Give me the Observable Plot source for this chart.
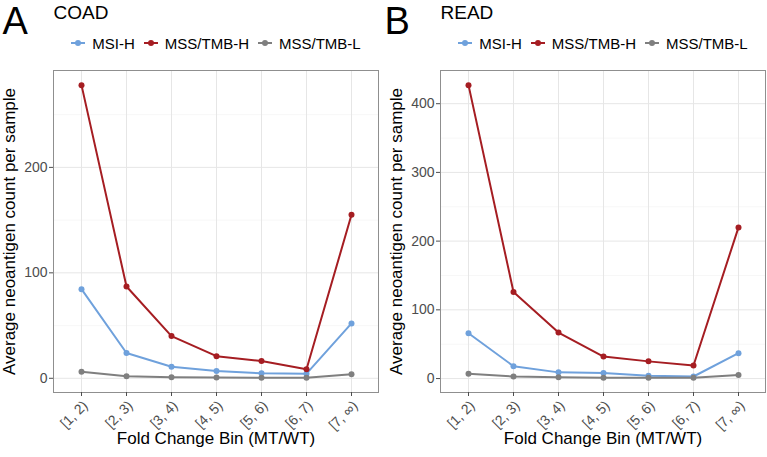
<!DOCTYPE html>
<html>
<head>
<meta charset="utf-8">
<script src="https://cdn.jsdelivr.net/npm/d3@7"></script>
<script src="https://cdn.jsdelivr.net/npm/@observablehq/plot@0.6"></script>
<style>
  html, body { margin: 0; padding: 0; background: #fff; }
  body { font-family: "Liberation Sans", Arial, Helvetica, sans-serif; color: #000; }
  #figure { position: relative; width: 767px; height: 457px; overflow: hidden; }
  .panel { position: absolute; top: 0; height: 457px; }
  .panel > svg.plot { position: absolute; left: 0; top: 0; }
  .legend { position: absolute; top: 34px; height: 18px; display: flex; align-items: center; justify-content: center; font-size: 15px; }
  .legend .item { display: flex; align-items: center; margin: 0 4px; }
  .legend svg { margin-right: 6px; }
</style>
</head>
<body>
<div id="figure"></div>
<script>
// Fold-change bins on the x axis and the three tumour groups
const bins = ["[1, 2)", "[2, 3)", "[3, 4)", "[4, 5)", "[5, 6)", "[6, 7)", "[7, ∞)"];
const groups = ["MSI-H", "MSS/TMB-H", "MSS/TMB-L"];
const groupColors = ["#6fa1dc", "#a51d22", "#7f7f7f"];

// COAD: average neoantigen count per sample in each bin
const coadMSIH = [84.5, 24, 11, 7, 4.7, 4.4, 52];
const coadTMBH = [278, 87, 40, 21, 16.4, 8.5, 155];
const coadTMBL = [6.3, 1.9, 1, 0.7, 0.5, 0.4, 3.8];
const coadTicks = [0, 100, 200];

// READ: average neoantigen count per sample in each bin
const readMSIH = [66, 18, 9, 8, 4, 3, 37];
const readTMBH = [427, 126, 67, 32, 25, 19, 220];
const readTMBL = [7, 3, 2, 1, 1, 1, 5];
const readTicks = [0, 100, 200, 300, 400];

const xTitle = "Fold Change Bin (MT/WT)";
const yTitle = "Average neoantigen count per sample";

const font = '"Liberation Sans", Arial, Helvetica, sans-serif';
const tickColor = "#4d4d4d";

function toRows(series) {
  return groups.flatMap((g, gi) => bins.map((b, i) => ({bin: b, group: g, value: series[gi][i]})));
}

// ggplot-style 5% expansion of the continuous range
function expand(values) {
  const [lo, hi] = d3.extent(values);
  const pad = (hi - lo) * 0.05;
  return [lo - pad, hi + pad];
}

function midpoints(ticks) {
  const step = ticks[1] - ticks[0];
  return ticks.map(t => t + step / 2);
}

function makePanel({left, width, marginLeft, marginRight, tag, tagDx, title, series, ticks}) {
  const rows = toRows(series);
  const domain = expand(rows.map(d => d.value));
  const minor = midpoints(ticks).filter(v => v < domain[1]);

  const panel = document.createElement("div");
  panel.className = "panel";
  panel.style.left = left + "px";
  panel.style.width = width + "px";

  const svg = Plot.plot({
    width,
    height: 457,
    marginTop: 70,
    marginBottom: 65,
    marginLeft,
    marginRight,
    style: {fontFamily: font, fontSize: "14px", background: "transparent", overflow: "visible"},
    x: {type: "point", domain: bins, padding: 0.6},
    y: {domain},
    color: {domain: groups, range: groupColors},
    marks: [
      // panel grid
      Plot.ruleY(minor, {stroke: "#f3f3f3", strokeWidth: 0.7}),
      Plot.gridY(ticks, {stroke: "#e6e6e6", strokeOpacity: 1, strokeWidth: 1}),
      Plot.gridX(bins, {stroke: "#e6e6e6", strokeOpacity: 1, strokeWidth: 1}),
      // series
      Plot.line(rows, {x: "bin", y: "value", z: "group", stroke: "group", strokeWidth: 2}),
      Plot.dot(rows, {x: "bin", y: "value", fill: "group", r: 3}),
      Plot.frame({stroke: "#8f8f8f", strokeWidth: 1}),
      // tick marks
      Plot.axisY(ticks, {tickSize: 4, tickFormat: () => "", color: tickColor, label: null}),
      Plot.axisX(bins, {tickSize: 4, tickFormat: () => "", color: tickColor, label: null}),
      // tick labels
      Plot.text(ticks, {y: d => d, text: d => String(d), frameAnchor: "left", textAnchor: "end", dx: -6, fontSize: 14, fill: tickColor}),
      Plot.text(bins, {x: d => d, text: d => d, frameAnchor: "bottom", rotate: -45, textAnchor: "end", lineAnchor: "top", dy: 7, fontSize: 14, fill: tickColor}),
      // axis titles
      Plot.text([yTitle], {frameAnchor: "left", textAnchor: "middle", rotate: -90, dx: -44, fontSize: 17, fill: "#000"}),
      Plot.text([xTitle], {frameAnchor: "bottom", textAnchor: "middle", dy: 51, fontSize: 17, fill: "#000"}),
      // panel tag and title
      Plot.text([tag], {frameAnchor: "top-left", textAnchor: "start", lineAnchor: "top", dx: tagDx, dy: -63.5, fontSize: 38, fill: "#000"}),
      Plot.text([title], {frameAnchor: "top-left", textAnchor: "start", lineAnchor: "top", dx: 0, dy: -65, fontSize: 19, fill: "#000"})
    ]
  });
  svg.classList.add("plot");
  panel.appendChild(svg);

  const legend = document.createElement("div");
  legend.className = "legend";
  legend.style.left = marginLeft + "px";
  legend.style.width = (width - marginLeft - marginRight) + "px";
  groups.forEach((g, i) => {
    const item = document.createElement("div");
    item.className = "item";
    item.innerHTML =
      `<svg width="16" height="10"><line x1="1" x2="15" y1="5" y2="5" stroke="${groupColors[i]}" stroke-width="2"/>` +
      `<circle cx="8" cy="5" r="3" fill="${groupColors[i]}"/></svg><span>${g}</span>`;
    legend.appendChild(item);
  });
  panel.appendChild(legend);

  return panel;
}

const figure = document.getElementById("figure");
figure.appendChild(makePanel({
  left: 0, width: 384, marginLeft: 53, marginRight: 6, tag: "A", tagDx: -51,
  title: "COAD", series: [coadMSIH, coadTMBH, coadTMBL], ticks: coadTicks
}));
figure.appendChild(makePanel({
  left: 384, width: 383, marginLeft: 56, marginRight: 2, tag: "B", tagDx: -56,
  title: "READ", series: [readMSIH, readTMBH, readTMBL], ticks: readTicks
}));
</script>
</body>
</html>
